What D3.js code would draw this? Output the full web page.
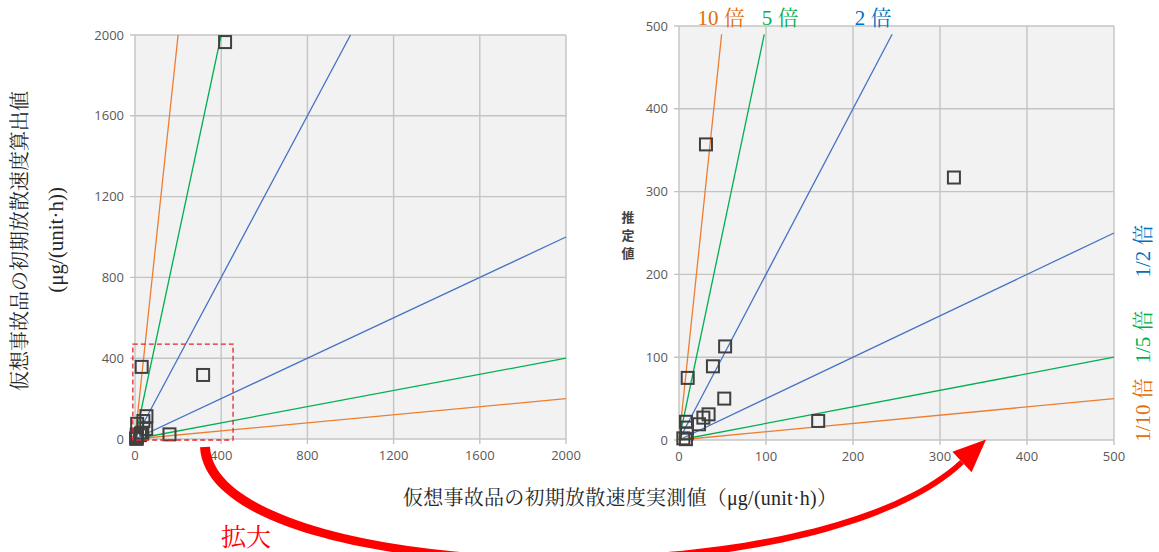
<!DOCTYPE html>
<html>
<head>
<meta charset="utf-8">
<script src="https://cdn.jsdelivr.net/npm/d3@7"></script>
<style>
  html, body { margin: 0; padding: 0; background: #fff; }
  svg { display: block; }
</style>
</head>
<body>
<svg id="chart" width="1159" height="552"></svg>
<script>
// Measured (x) vs estimated (y) initial emission rates, µg/(unit·h)
const measured  = [418, 31, 316, 53, 39, 10, 52, 160, 34, 28, 23, 8, 9, 9, 5, 8];
const estimated = [1965, 357, 317, 113, 89, 75, 50, 23, 31, 27, 19, 22, 15, 8, 2, 1];

// Reference ratio lines (estimated = ratio × measured)
const ratios      = [10, 5, 2, 0.5, 0.2, 0.1];
const ratioColors = ["#ed7d31", "#00b050", "#4472c4", "#4472c4", "#00b050", "#ed7d31"];

// Axis ticks
const fullTicks = [0, 400, 800, 1200, 1600, 2000];
const zoomTicks = [0, 100, 200, 300, 400, 500];
const fullMax = 2000;
const zoomMax = 500;
const zoomLineTop = 490;   // steep lines on the zoomed panel stop at this value

// Extent of the zoomed region marked on the full panel (data units)
const zoomBoxX = [-10, 455];
const zoomBoxY = [-5, 470];

const svg = d3.select("#chart");
const tickFont = "'Open Sans', 'Noto Sans', sans-serif";
const titleFont = "'Liberation Serif', 'Noto Serif CJK JP', 'Noto Sans CJK JP', serif";

function panel(opts) {
  const { x, y, ticks, id } = opts;
  const g = svg.append("g");
  const [x0, x1] = x.range();
  const [y0, y1] = y.range(); // y0 bottom, y1 top

  g.append("rect")
    .attr("x", x0).attr("y", y1)
    .attr("width", x1 - x0).attr("height", y0 - y1)
    .attr("fill", "#f2f2f2");

  // grid lines with short outward stubs
  g.selectAll("line.hgrid").data(ticks).join("line")
    .attr("x1", x0 - 5).attr("x2", x1)
    .attr("y1", d => y(d)).attr("y2", d => y(d))
    .attr("stroke", "#c4c4c4").attr("stroke-width", 1.4);
  g.selectAll("line.vgrid").data(ticks).join("line")
    .attr("x1", d => x(d)).attr("x2", d => x(d))
    .attr("y1", y0 + 5).attr("y2", y1)
    .attr("stroke", "#c4c4c4").attr("stroke-width", 1.4);

  // tick labels
  g.selectAll("text.ytick").data(ticks).join("text")
    .attr("x", x0 - 11).attr("y", d => y(d))
    .attr("dy", "0.35em").attr("text-anchor", "end")
    .attr("font-family", tickFont).attr("font-size", 13)
    .attr("fill", "#595959")
    .text(d => d);
  g.selectAll("text.xtick").data(ticks).join("text")
    .attr("x", d => x(d)).attr("y", y0 + 21)
    .attr("text-anchor", "middle")
    .attr("font-family", tickFont).attr("font-size", 13)
    .attr("fill", "#595959")
    .text(d => d);

  // clip for series
  svg.append("clipPath").attr("id", id)
    .append("rect")
    .attr("x", x0 - 8).attr("y", y1 - 8)
    .attr("width", x1 - x0 + 16).attr("height", y0 - y1 + 16);

  const series = g.append("g").attr("clip-path", `url(#${id})`);
  const line = d3.line().x(d => x(d[0])).y(d => y(d[1]));

  series.selectAll("path.ratio").data(ratios).join("path")
    .attr("d", r => line([[0, 0], opts.lineEnd(r)]))
    .attr("stroke", (r, i) => ratioColors[i])
    .attr("stroke-width", 1.3)
    .attr("fill", "none");

  const pts = d3.range(measured.length)
    .map(i => [measured[i], estimated[i]])
    .filter(p => p[0] <= opts.max && p[1] <= opts.max);

  const s = 12;
  g.selectAll("rect.pt").data(pts).join("rect")
    .attr("x", d => x(d[0]) - s / 2).attr("y", d => y(d[1]) - s / 2)
    .attr("width", s).attr("height", s)
    .attr("fill", "none").attr("stroke", "#404040").attr("stroke-width", 2);

  return g;
}

// Full-range panel
const xL = d3.scaleLinear().domain([0, fullMax]).range([135, 566]);
const yL = d3.scaleLinear().domain([0, fullMax]).range([439, 35]);
const left = panel({
  x: xL, y: yL, ticks: fullTicks, id: "clipL", max: fullMax,
  lineEnd: r => r >= 1 ? [fullMax / r, fullMax] : [fullMax, fullMax * r]
});

// zoom region marker
left.append("rect")
  .attr("x", xL(zoomBoxX[0])).attr("y", yL(zoomBoxY[1]))
  .attr("width", xL(zoomBoxX[1]) - xL(zoomBoxX[0]))
  .attr("height", yL(zoomBoxY[0]) - yL(zoomBoxY[1]))
  .attr("fill", "none").attr("stroke", "#e8262b")
  .attr("stroke-width", 1.3).attr("stroke-dasharray", "5,3");

// Zoomed panel
const xR = d3.scaleLinear().domain([0, zoomMax]).range([679, 1114]);
const yR = d3.scaleLinear().domain([0, zoomMax]).range([440, 26]);
panel({
  x: xR, y: yR, ticks: zoomTicks, id: "clipR", max: zoomMax,
  lineEnd: r => r >= 1 ? [zoomLineTop / r, zoomLineTop] : [zoomMax, zoomMax * r]
});

// Axis titles
svg.append("g").attr("transform", "translate(20,241) rotate(-90)")
  .append("text")
  .attr("text-anchor", "middle").attr("dy", "0.35em")
  .attr("font-family", titleFont).attr("font-size", 20).attr("fill", "#262626")
  .text("仮想事故品の初期放散速度算出値");
svg.append("g").attr("transform", "translate(56,240) rotate(-90)")
  .append("text")
  .attr("text-anchor", "middle").attr("dy", "0.35em")
  .attr("font-family", titleFont).attr("font-size", 21).attr("fill", "#262626")
  .text("(μg/(unit·h))");

svg.append("text")
  .attr("x", 620).attr("y", 505)
  .attr("text-anchor", "middle")
  .attr("font-family", titleFont).attr("font-size", 20).attr("fill", "#262626")
  .attr("textLength", 434).attr("lengthAdjust", "spacing")
  .text("仮想事故品の初期放散速度実測値（μg/(unit·h)）");

// Small vertical label on the zoomed panel
svg.append("text")
  .attr("font-family", "'Noto Sans CJK JP', sans-serif")
  .attr("font-size", 13).attr("font-weight", "bold").attr("fill", "#404040")
  .attr("text-anchor", "middle")
  .selectAll("tspan").data(["推", "定", "値"]).join("tspan")
  .attr("x", 628).attr("y", (d, i) => 222 + i * 18)
  .text(d => d);

// Ratio labels
const labelTop = [
  { t: "10 倍", x: 721, c: "#e46c0a" },
  { t: "5 倍", x: 780, c: "#00b050" },
  { t: "2 倍", x: 873, c: "#0070c0" }
];
svg.selectAll("text.topLab").data(labelTop).join("text")
  .attr("x", d => d.x).attr("y", 25)
  .attr("text-anchor", "middle")
  .attr("font-family", titleFont).attr("font-size", 21)
  .attr("fill", d => d.c)
  .text(d => d.t);

const labelSide = [
  { t: "1/2 倍", y: 251, c: "#0070c0" },
  { t: "1/5 倍", y: 337, c: "#00b050" },
  { t: "1/10 倍", y: 410, c: "#e46c0a" }
];
svg.selectAll("g.sideLab").data(labelSide).join("g")
  .attr("transform", d => `translate(1143,${d.y}) rotate(-90)`)
  .append("text")
  .attr("text-anchor", "middle").attr("dy", "0.35em")
  .attr("font-family", titleFont).attr("font-size", 21)
  .attr("fill", d => d.c)
  .text(d => d.t);

// Curved "enlarge" arrow from the marked region to the zoomed panel
(function drawArrow() {
  const P = [[205, 447], [212, 585], [810, 605], [962, 462]];
  const bez = t => {
    const a = (1 - t) ** 3, b = 3 * (1 - t) ** 2 * t, c = 3 * (1 - t) * t * t, d = t ** 3;
    return [a * P[0][0] + b * P[1][0] + c * P[2][0] + d * P[3][0],
            a * P[0][1] + b * P[1][1] + c * P[2][1] + d * P[3][1]];
  };
  const deriv = t => {
    const a = 3 * (1 - t) ** 2, b = 6 * (1 - t) * t, c = 3 * t * t;
    return [a * (P[1][0] - P[0][0]) + b * (P[2][0] - P[1][0]) + c * (P[3][0] - P[2][0]),
            a * (P[1][1] - P[0][1]) + b * (P[2][1] - P[1][1]) + c * (P[3][1] - P[2][1])];
  };
  const n = 80, sideA = [], sideB = [];
  for (let i = 0; i <= n; i++) {
    const t = i / n;
    const p = bez(t), d = deriv(t);
    const len = Math.hypot(d[0], d[1]);
    const nx = -d[1] / len, ny = d[0] / len;
    const w = (10 - 4.5 * t) / 2;
    sideA.push([p[0] + nx * w, p[1] + ny * w]);
    sideB.push([p[0] - nx * w, p[1] - ny * w]);
  }
  const body = sideA.concat(sideB.reverse());
  svg.append("path")
    .attr("d", "M" + body.map(p => p.join(",")).join("L") + "Z")
    .attr("fill", "#ff0000");

  const end = P[3], d = deriv(1), len = Math.hypot(d[0], d[1]);
  const ux = d[0] / len, uy = d[1] / len;
  const tip = [end[0] + ux * 33, end[1] + uy * 33];
  const hw = 14;
  const head = [tip,
    [end[0] - uy * hw, end[1] + ux * hw],
    [end[0] + uy * hw, end[1] - ux * hw]];
  svg.append("path")
    .attr("d", "M" + head.map(p => p.join(",")).join("L") + "Z")
    .attr("fill", "#ff0000");
})();

svg.append("text")
  .attr("x", 246).attr("y", 546)
  .attr("text-anchor", "middle")
  .attr("font-family", titleFont).attr("font-size", 25)
  .attr("fill", "#ff0000")
  .text("拡大");
</script>
</body>
</html>
